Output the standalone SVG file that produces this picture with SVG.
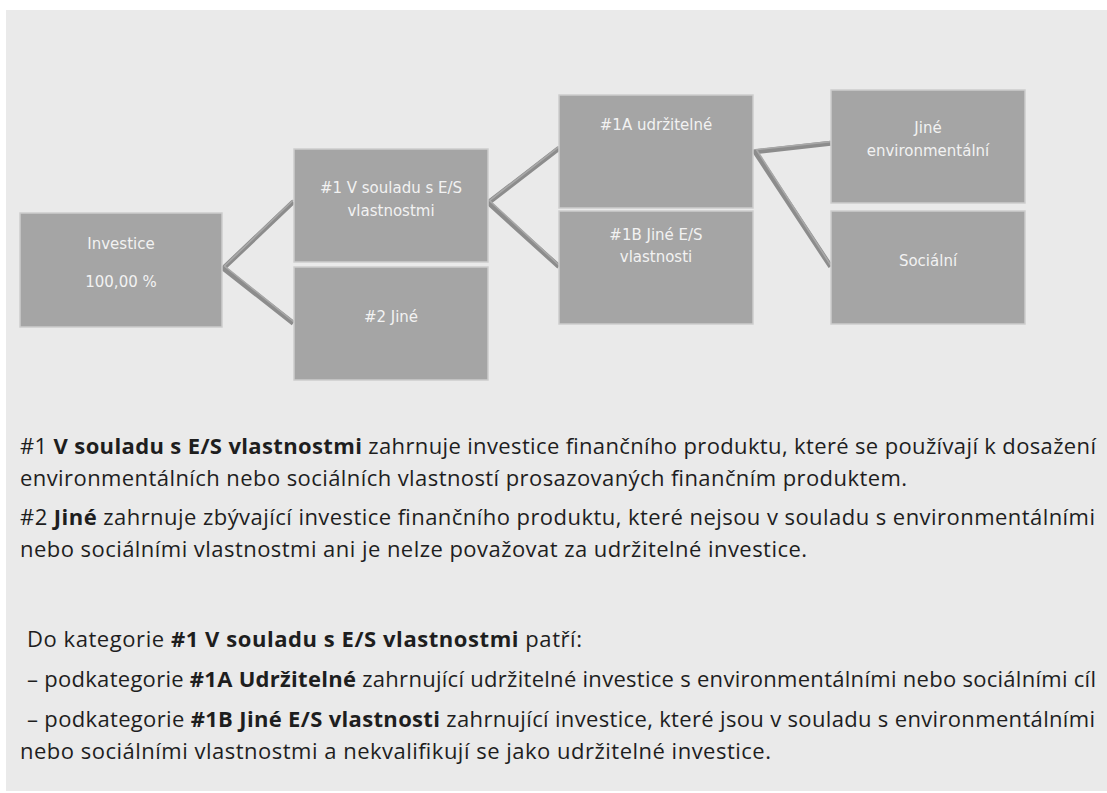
<svg xmlns="http://www.w3.org/2000/svg" width="1107" height="793" viewBox="0 0 1107 793">
<style>
.box{fill:#a5a5a5;stroke:#cdcdcd;stroke-width:1.5}
.bl{font-family:"DejaVu Sans",sans-serif;font-size:15px;fill:#f2f2f2;text-anchor:middle}
.con{fill:none;stroke:#8c8c8c;stroke-width:5;stroke-linejoin:miter}
.conh{fill:none;stroke:#a8a8a8;stroke-width:1.6}
.tx{font-family:"Open Sans","Noto Sans",sans-serif;font-size:22px;fill:#1e1e1e}
.b{font-weight:bold}
</style>
<rect x="6" y="10" width="1101" height="781" fill="#eaeaea"/>
<g id="connectors">
<path class="con" d="M293.3,201.7 L223.3,268.3 L293.3,323.3"/>
<path class="conh" d="M293.3,200 L224.5,266 L293.3,321.5"/>
<path class="con" d="M559,148.3 L488.3,202.7 L559,266.7"/>
<path class="conh" d="M559,146.6 L489.5,200.5 L559,265"/>
<path class="con" d="M830.7,143.3 L755,151.7 L830.7,266.7"/>
<path class="conh" d="M830.7,141.6 L756.5,149.6 L830.7,265"/>
</g>
<g id="investice">
<rect class="box" x="20" y="213" width="202" height="114"/>
<text class="bl" x="121" y="249">Investice</text>
<text class="bl" x="121" y="287">100,00 %</text>
</g>
<g id="n1">
<rect class="box" x="294" y="149" width="194" height="113"/>
<text class="bl" x="391" y="193">#1 V souladu s E/S</text>
<text class="bl" x="391" y="216">vlastnostmi</text>
</g>
<g id="n2">
<rect class="box" x="294" y="267" width="194" height="113"/>
<text class="bl" x="391" y="322">#2 Jiné</text>
</g>
<g id="n1a">
<rect class="box" x="559" y="95" width="194" height="113"/>
<text class="bl" x="656" y="130">#1A udržitelné</text>
</g>
<g id="n1b">
<rect class="box" x="559" y="211" width="194" height="113"/>
<text class="bl" x="656" y="240">#1B Jiné E/S</text>
<text class="bl" x="656" y="262">vlastnosti</text>
</g>
<g id="nenv">
<rect class="box" x="831" y="90" width="194" height="113"/>
<text class="bl" x="928" y="133">Jiné</text>
<text class="bl" x="928" y="156">environmentální</text>
</g>
<g id="nsoc">
<rect class="box" x="831" y="211" width="194" height="113"/>
<text class="bl" x="928" y="266">Sociální</text>
</g>
<g id="legend">
<text class="tx" x="20" y="454" textLength="1076" lengthAdjust="spacing">#1 <tspan class="b">V souladu s E/S vlastnostmi</tspan> zahrnuje investice finančního produktu, které se používají k dosažení</text>
<text class="tx" x="20" y="486" textLength="887" lengthAdjust="spacing">environmentálních nebo sociálních vlastností prosazovaných finančním produktem.</text>
<text class="tx" x="20" y="525" textLength="1075" lengthAdjust="spacing">#2 <tspan class="b">Jiné</tspan> zahrnuje zbývající investice finančního produktu, které nejsou v souladu s environmentálními</text>
<text class="tx" x="20" y="557" textLength="787" lengthAdjust="spacing">nebo sociálními vlastnostmi ani je nelze považovat za udržitelné investice.</text>
<text class="tx" x="27" y="647" textLength="555" lengthAdjust="spacing">Do kategorie <tspan class="b">#1 V souladu s E/S vlastnostmi</tspan> patří:</text>
<text class="tx" x="27" y="687" textLength="1069" lengthAdjust="spacing">– podkategorie <tspan class="b">#1A Udržitelné</tspan> zahrnující udržitelné investice s environmentálními nebo sociálními cíl</text>
<text class="tx" x="27" y="727" textLength="1068" lengthAdjust="spacing">– podkategorie <tspan class="b">#1B Jiné E/S vlastnosti</tspan> zahrnující investice, které jsou v souladu s environmentálními</text>
<text class="tx" x="20" y="759" textLength="751" lengthAdjust="spacing">nebo sociálními vlastnostmi a nekvalifikují se jako udržitelné investice.</text>
</g>
</svg>
